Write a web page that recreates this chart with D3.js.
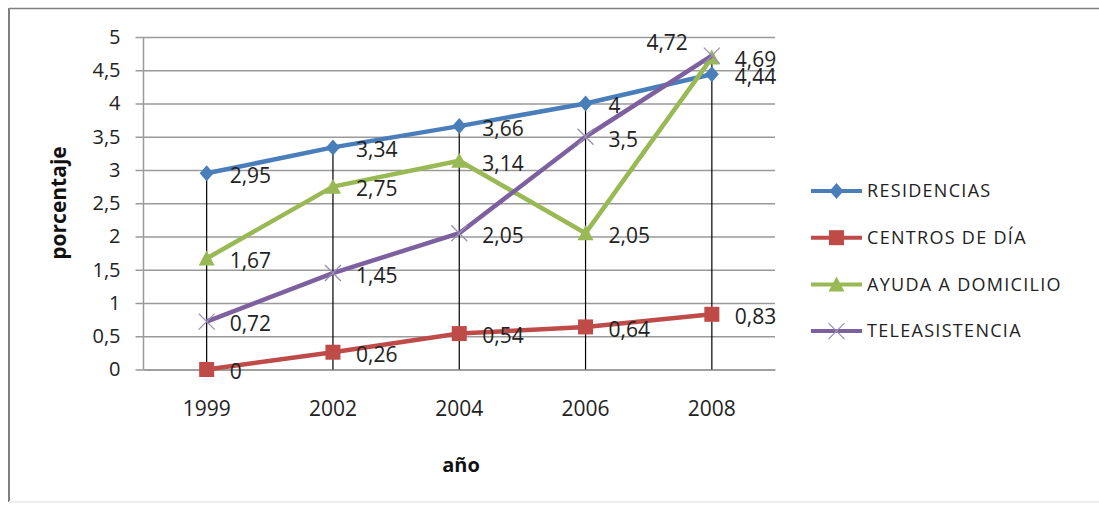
<!DOCTYPE html>
<html>
<head>
<meta charset="utf-8">
<script src="https://cdn.jsdelivr.net/npm/d3@7"></script>
<style>
    html, body { margin: 0; padding: 0; background: #fff; }
    svg { display: block; font-family: "Open Sans", "DejaVu Sans", sans-serif; }
</style>
</head>
<body>
<svg id="chart" width="1099" height="505"></svg>
<script>
// data
const years = ['1999', '2002', '2004', '2006', '2008'];
const seriesNames = ['RESIDENCIAS', 'CENTROS DE DÍA', 'AYUDA A DOMICILIO', 'TELEASISTENCIA'];
const residencias = [2.95, 3.34, 3.66, 4, 4.44];
const centrosDia = [0, 0.26, 0.54, 0.64, 0.83];
const ayudaDomicilio = [1.67, 2.75, 3.14, 2.05, 4.69];
const teleasistencia = [0.72, 1.45, 2.05, 3.5, 4.72];
const yTicks = [0, 0.5, 1, 1.5, 2, 2.5, 3, 3.5, 4, 4.5, 5];

(function() {
    'use strict';

    const svg = d3.select('#chart');
    const margin = { top: 37, left: 143.5, right: 324, bottom: 135.5 };
    const width = 1099 - margin.left - margin.right;
    const height = 505 - margin.top - margin.bottom;

    const colors = ['#4A7EBB', '#BE4B48', '#98B954', '#7D60A0'];
    const markers = ['diamond', 'square', 'triangle', 'cross'];
    const values = [residencias, centrosDia, ayudaDomicilio, teleasistencia];

    const series = seriesNames.map((name, i) => ({
        name: name,
        color: colors[i],
        marker: markers[i],
        points: years.map((yr, j) => ({ year: yr, value: values[i][j] }))
    }));

    const fmt = v => String(v).replace('.', ',');

    // outer chart frame
    svg.append('line').attr('x1', 9).attr('x2', 1099).attr('y1', 8.5).attr('y2', 8.5)
        .attr('stroke', '#808080').attr('stroke-width', 1.5);
    svg.append('line').attr('x1', 9).attr('x2', 9).attr('y1', 8).attr('y2', 502)
        .attr('stroke', '#808080').attr('stroke-width', 2);
    svg.append('line').attr('x1', 9).attr('x2', 1099).attr('y1', 502).attr('y2', 502)
        .attr('stroke', '#eeeeee').attr('stroke-width', 2);

    const g = svg.append('g').attr('transform', `translate(${margin.left},${margin.top})`);

    const x = d3.scaleBand().domain(years).range([0, width]);
    const y = d3.scaleLinear().domain([0, 5]).range([height, 0]);
    const cx = d => x(d) + x.bandwidth() / 2;

    // gridlines + y axis
    const yAxis = g.append('g')
        .call(d3.axisLeft(y).tickValues(yTicks).tickSize(-width).tickFormat(fmt).tickPadding(22));
    yAxis.select('.domain').remove();
    yAxis.selectAll('.tick line').attr('x1', -8).attr('stroke', '#9a9a9a').attr('stroke-width', 1.5);
    yAxis.selectAll('.tick text')
        .attr('x', -23)
        .style('font-size', '20px')
        .style('font-family', '"Open Sans", sans-serif')
        .attr('fill', '#222');

    g.append('line').attr('x1', 0).attr('x2', 0).attr('y1', 0).attr('y2', height)
        .attr('stroke', '#9a9a9a').attr('stroke-width', 1.5);

    // x axis
    const xAxis = g.append('g')
        .attr('transform', `translate(0,${height})`)
        .call(d3.axisBottom(x).tickSize(0).tickPadding(32));
    xAxis.select('.domain').attr('stroke', '#9a9a9a').attr('stroke-width', 1.5);
    xAxis.selectAll('.tick text')
        .style('font-size', '21px')
        .style('font-family', '"Open Sans", sans-serif')
        .attr('fill', '#222');

    // drop lines from highest value to the axis
    g.selectAll('.drop')
        .data(years)
        .enter()
        .append('line')
        .attr('x1', d => cx(d)).attr('x2', d => cx(d))
        .attr('y1', (d, j) => y(d3.max(values, v => v[j])))
        .attr('y2', height)
        .attr('stroke', '#000').attr('stroke-width', 1.2);

    const line = d3.line().x(d => cx(d.year)).y(d => y(d.value));

    function drawMarker(sel, type, color) {
        if (type === 'diamond') {
            sel.append('path').attr('d', 'M0,-8 L7,0 L0,8 L-7,0 Z').attr('fill', color);
        } else if (type === 'square') {
            sel.append('rect').attr('x', -7.5).attr('y', -7.5).attr('width', 15).attr('height', 15)
                .attr('fill', color);
        } else if (type === 'triangle') {
            sel.append('path').attr('d', 'M0,-8 L8,7 L-8,7 Z').attr('fill', color);
        } else {
            sel.append('path').attr('d', 'M-8,-8 L8,8 M-8,8 L8,-8')
                .attr('stroke', '#9a8fb3').attr('stroke-width', 1.3).attr('fill', 'none');
        }
    }

    series.forEach(s => {
        g.append('path')
            .datum(s.points)
            .attr('d', line)
            .attr('fill', 'none')
            .attr('stroke', s.color)
            .attr('stroke-width', 4.5)
            .attr('stroke-linejoin', 'round');

        g.selectAll(null)
            .data(s.points)
            .enter()
            .append('g')
            .attr('transform', d => `translate(${cx(d.year)},${y(d.value)})`)
            .each(function() { drawMarker(d3.select(this), s.marker, s.color); });
    });

    // data labels (4,72 sits left of its point)
    const isLeft = (s, d) => s.name === 'TELEASISTENCIA' && d.year === '2008';
    series.forEach(s => {
        g.selectAll(null)
            .data(s.points)
            .enter()
            .append('text')
            .attr('x', d => isLeft(s, d) ? cx(d.year) - 24 : cx(d.year) + 23)
            .attr('y', d => isLeft(s, d) ? y(d.value) - 13 : y(d.value) + 2.5)
            .attr('dy', '0.35em')
            .attr('text-anchor', d => isLeft(s, d) ? 'end' : 'start')
            .style('font-size', '21px')
            .attr('fill', '#222')
            .text(d => fmt(d.value));
    });

    // axis titles
    svg.append('text')
        .attr('transform', 'translate(59,203) rotate(-90)')
        .attr('text-anchor', 'middle')
        .attr('dy', '0.35em')
        .style('font-size', '21px')
        .style('font-weight', '700')
        .attr('fill', '#111')
        .text('porcentaje');

    svg.append('text')
        .attr('x', 461).attr('y', 465)
        .attr('text-anchor', 'middle')
        .attr('dy', '0.35em')
        .style('font-size', '20px')
        .style('font-weight', '700')
        .attr('fill', '#111')
        .text('año');

    // legend
    const legend = svg.append('g').attr('transform', 'translate(811,191)');
    const rows = legend.selectAll('.row')
        .data(series)
        .enter()
        .append('g')
        .attr('transform', (d, i) => `translate(0,${i * 46.7})`);

    rows.append('line')
        .attr('x1', 0).attr('x2', 51)
        .attr('stroke', d => d.color).attr('stroke-width', 4);
    rows.each(function(d) {
        const m = d3.select(this).append('g').attr('transform', 'translate(25.5,0)');
        drawMarker(m, d.marker, d.color);
    });
    rows.append('text')
        .attr('x', 56)
        .attr('dy', '0.35em')
        .style('font-size', '18px')
        .style('letter-spacing', '1.3px')
        .attr('fill', '#222')
        .text(d => d.name);
})();
</script>
</body>
</html>
